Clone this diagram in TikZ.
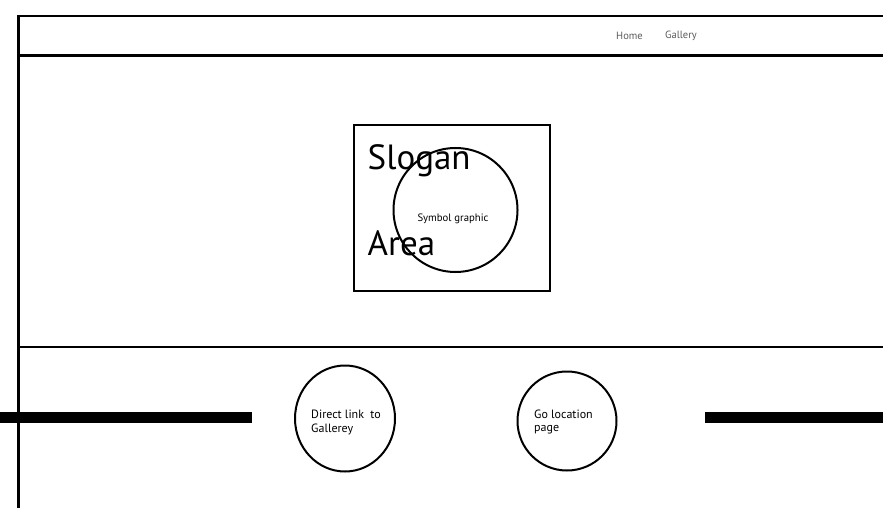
\documentclass[tikz,border=0pt]{standalone}
\usepackage{fontspec}
\setmainfont{PT Sans}
\usetikzlibrary{shapes.geometric}
\definecolor{navgray}{RGB}{90,90,90}
\begin{document}
\begin{tikzpicture}[x=1pt, y=-1pt,
    frameline/.style={line width=2.5pt},
    thinline/.style={line width=2pt},
    barline/.style={line width=11pt},
    navtxt/.style={font=\fontsize{10.5}{12}\selectfont, text=navgray, inner sep=0pt},
    smalltxt/.style={font=\fontsize{12}{13.5}\selectfont, inner sep=0pt, align=left},
    bigtxt/.style={font=\fontsize{35}{40}\selectfont, inner sep=0pt}]
    % Khung trang, 883 x 508
    \useasboundingbox (0,0) rectangle (883,508);

    % Khung ngoai: canh trai va canh tren
    \coordinate (TL) at (18.5,16);
    \coordinate (BL) at (18.5,508);
    \coordinate (TR) at (883,16);
    \draw[frameline] (BL) -- (TL) -- (TR);

    % Thanh menu va duong chia phan duoi
    \coordinate (HL) at (18.5,55.5);
    \coordinate (HR) at (883,55.5);
    \draw[frameline] (HL) -- (HR);
    \coordinate (DL) at (18.5,346.5);
    \coordinate (DR) at (883,346.5);
    \draw[thinline] (DL) -- (DR);

    % Menu
    \node[navtxt] (home) at (629.5,36) {Home};
    \node[navtxt] (gallery) at (681,36) {Gallery};

    % Khung slogan
    \coordinate (S1) at (354,125);
    \coordinate (S2) at (550,291);
    \draw[thinline] (S1) rectangle (S2);
    \node[bigtxt, anchor=base west] (slogan) at (367.5,169.5) {Slogan};
    \node[bigtxt, anchor=base west] (area) at (367.5,255.5) {Area};

    % Hinh tron bieu tuong
    \node[draw, circle, thinline, minimum size=124pt, inner sep=0pt] (symb) at (455.5,210) {};
    \node[font=\fontsize{10.7}{12}\selectfont, inner sep=0pt] (symbtxt) at (453,219) {Symbol graphic};

    % Hai nut duoi
    \node[draw, ellipse, thinline, minimum width=100pt, minimum height=106pt, inner sep=0pt] (gal) at (345,418.5) {};
    \node[draw, circle, thinline, minimum size=99pt, inner sep=0pt] (loc) at (567,421) {};
    \node[smalltxt, anchor=north west] (galtxt) at (311,410) {Direct link\ \ to\\Gallerey};
    \node[smalltxt, anchor=north west] (loctxt) at (534,409.5) {Go location\\page};

    % Thanh ngang dam
    \coordinate (B1) at (0,417);
    \coordinate (B2) at (251.5,417);
    \coordinate (B3) at (705,417);
    \coordinate (B4) at (883,417);
    \draw[barline] (B1) -- (B2);
    \draw[barline] (B3) -- (B4);
\end{tikzpicture}
\end{document}
